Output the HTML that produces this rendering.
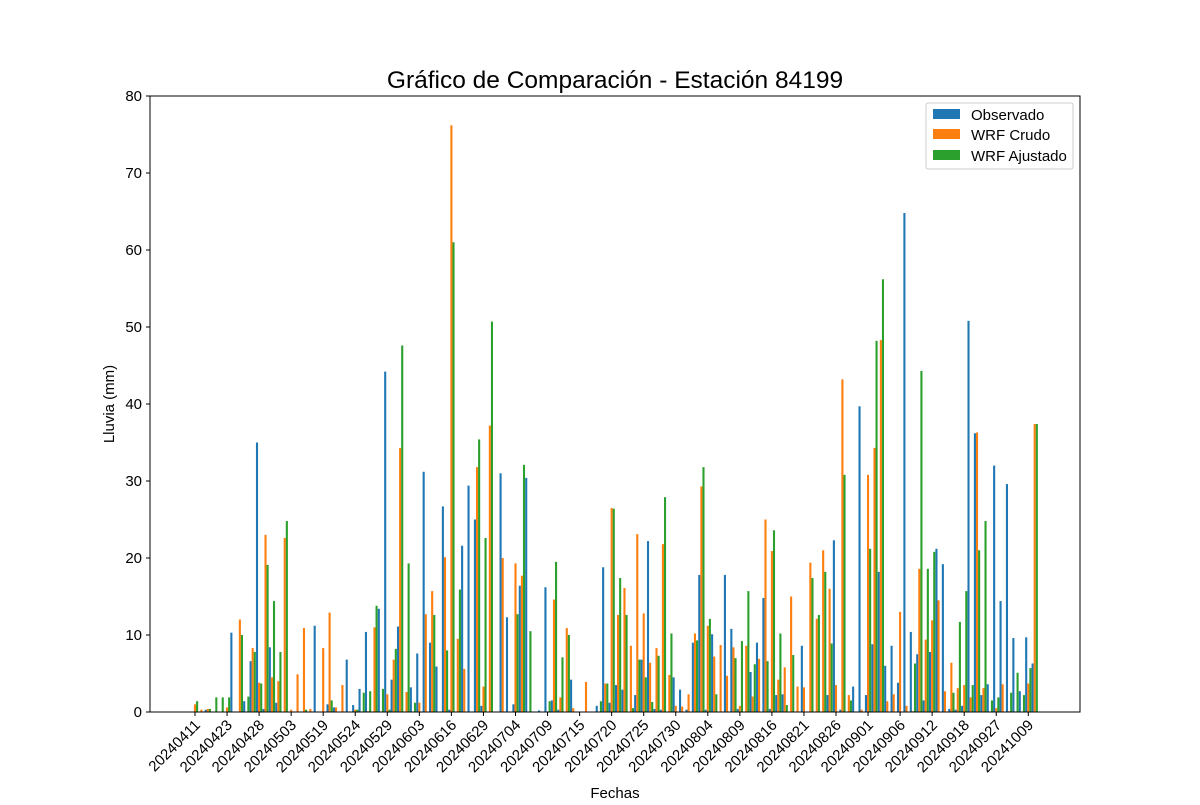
<!DOCTYPE html>
<html><head><meta charset="utf-8"><style>
body{margin:0;background:#fff;}
svg text{font-family:"Liberation Sans","DejaVu Sans",sans-serif;fill:#000;}
</style></head><body>
<svg id="chart" width="1200" height="800" viewBox="0 0 1200 800" xmlns="http://www.w3.org/2000/svg">
<rect width="1200" height="800" fill="#fff"/>
<text x="615" y="88" font-size="24.5" text-anchor="middle">Gráfico de Comparación - Estación 84199</text>
<text x="114" y="404" font-size="15" text-anchor="middle" transform="rotate(-90 114 404)">Lluvia (mm)</text>
<text x="615" y="798" font-size="15" text-anchor="middle">Fechas</text>
<g id="bars"></g>
<g id="axes"></g>
<g>
<rect x="926" y="103" width="147" height="66" fill="#fff" stroke="#ccc" rx="2"/>
<rect x="933" y="109" width="27" height="10" fill="#1f77b4"/>
<text x="971" y="120" font-size="15">Observado</text>
<rect x="933" y="129" width="27" height="10" fill="#ff7f0e"/>
<text x="971" y="140" font-size="15">WRF Crudo</text>
<rect x="933" y="150" width="27" height="10" fill="#2ca02c"/>
<text x="971" y="161" font-size="15">WRF Ajustado</text>
</g>
</svg>
<script>
const tickLabels = ["20240411","20240423","20240428","20240503","20240519","20240524","20240529","20240603","20240616","20240629","20240704","20240709","20240715","20240720","20240725","20240730","20240804","20240809","20240816","20240821","20240826","20240901","20240906","20240912","20240918","20240927","20241009"];
const observado = [0,0,0.3,0,0,0,10.3,0,1.4,6.6,35,0.4,8.4,1.2,0,0,0,0,0,11.2,0,1.0,0.6,0,6.8,0.9,3.0,10.4,0,13.4,44.2,4.2,11.1,0,3.2,7.6,31.2,9.0,5.9,26.7,0.3,0,21.6,29.4,25.0,0.8,0,0,31.0,12.3,1.0,16.4,30.4,0,0.2,16.2,1.5,0.3,0,4.2,0,0,0,0.8,18.8,1.2,3.5,2.9,0,2.2,6.8,22.2,0.4,0.3,0,4.5,2.9,0.3,9.0,17.8,0.3,10.1,0,17.8,10.8,0.4,0,5.2,9.0,14.8,0.4,2.2,2.3,0,0,8.6,0,0,0,2.2,22.3,0.3,0,3.3,39.7,2.2,8.8,18.2,6.0,8.6,3.8,64.8,10.4,7.5,1.5,7.8,21.2,19.2,0.4,0.3,0.8,50.8,36.2,2.2,3.6,32.0,14.4,29.6,9.6,2.7,9.7,6.3];
const wrfCrudo = [1.0,0.3,0.4,0,0,0.6,0,12,0,8.3,3.8,23,4.5,4.0,22.6,0.3,4.9,10.9,0.4,0,8.3,12.9,0.6,3.5,0,0.3,0,0.1,11.0,0,2.3,6.8,34.3,2.6,0,1.2,12.7,15.7,0,20.1,76.2,9.5,5.6,0,31.8,3.3,37.2,0,20.0,0,19.3,17.7,0,0,0,0,14.6,1.9,10.9,0.5,0,3.9,0,0,3.7,26.5,12.6,16.1,8.6,23.1,12.8,6.4,8.3,21.8,4.8,0.8,0.7,2.3,10.2,29.3,11.2,7.2,8.7,4.7,8.4,0.8,8.6,2.0,6.9,25.0,20.9,4.2,5.8,15.0,3.3,3.2,19.4,12.1,21.0,16.0,3.5,43.2,2.2,0,0.3,30.8,34.3,48.3,1.4,2.3,13.0,0.8,0.1,18.6,9.4,11.9,14.5,2.7,6.4,3.1,3.5,1.9,36.3,3.1,0,0.5,3.6,0.1,0,0,3.7,37.4];
const wrfAjustado = [1.4,0,0.4,1.9,1.9,1.9,0,10,2.0,7.8,3.7,19.1,14.4,7.8,24.8,0,0,0.3,0,0,0,1.5,0,0,0,0.3,2.5,2.7,13.8,3.0,0.3,8.2,47.6,19.3,1.2,0,0,12.6,0,8.0,61.0,15.9,0,0,35.4,22.6,50.7,0,0,0,12.7,32.1,10.5,0,0,1.4,19.5,7.1,10.0,0,0,0,0,1.4,3.7,26.4,17.4,12.6,0.5,6.8,4.5,1.3,7.3,27.9,10.2,0,0,0,9.3,31.8,12.1,2.3,0,0,7.0,9.2,15.7,6.2,0,6.6,23.6,10.2,0.9,7.4,0,0,17.4,12.6,18.2,8.9,0,30.8,1.5,0,0,21.2,48.2,56.2,0,0,0,0,6.3,44.3,18.6,20.8,0,0,2.5,11.7,15.7,3.5,21.0,24.8,1.5,1.9,0,2.5,5.1,2.2,5.7,37.4];
const yTicks = [0,10,20,30,40,50,60,70,80];

const NS = "http://www.w3.org/2000/svg";
const plot = {left:150, right:1080, top:96, bottom:712};
const yMax = 80;
function xScale(i){ return 195 + i * 6.41; }
function yScale(v){ return plot.bottom - v / yMax * (plot.bottom - plot.top); }
const barW = 2.1;
const series = [
  {vals: observado, color: "#1f77b4", off: -barW, name: "observado"},
  {vals: wrfCrudo, color: "#ff7f0e", off: 0, name: "wrf-crudo"},
  {vals: wrfAjustado, color: "#2ca02c", off: barW, name: "wrf-ajustado"}
];
const barsG = document.getElementById("bars");
series.forEach(s => {
  s.vals.forEach((v, i) => {
    if (v <= 0) return;
    const r = document.createElementNS(NS, "rect");
    const y = yScale(v);
    r.setAttribute("x", (xScale(i) + s.off - barW/2).toFixed(2));
    r.setAttribute("y", y.toFixed(2));
    r.setAttribute("width", barW);
    r.setAttribute("height", (plot.bottom - y).toFixed(2));
    r.setAttribute("fill", s.color);
    
    
    barsG.appendChild(r);
  });
});
const axesG = document.getElementById("axes");
const frame = document.createElementNS(NS, "rect");
frame.setAttribute("x", plot.left); frame.setAttribute("y", plot.top);
frame.setAttribute("width", plot.right - plot.left); frame.setAttribute("height", plot.bottom - plot.top);
frame.setAttribute("fill", "none"); frame.setAttribute("stroke", "#000"); frame.setAttribute("stroke-width", "1");


axesG.appendChild(frame);
yTicks.forEach(t => {
  const y = yScale(t);
  const l = document.createElementNS(NS, "line");
  l.setAttribute("x1", plot.left - 4); l.setAttribute("x2", plot.left);
  l.setAttribute("y1", y); l.setAttribute("y2", y); l.setAttribute("stroke", "#000");
  
  
  axesG.appendChild(l);
  const tx = document.createElementNS(NS, "text");
  tx.setAttribute("x", plot.left - 8); tx.setAttribute("y", y + 5);
  tx.setAttribute("font-size", "15"); tx.setAttribute("text-anchor", "end");
  tx.textContent = t;
  
  
  axesG.appendChild(tx);
});
tickLabels.forEach((lab, k) => {
  const x = xScale(k * 5);
  const l = document.createElementNS(NS, "line");
  l.setAttribute("x1", x); l.setAttribute("x2", x);
  l.setAttribute("y1", plot.bottom); l.setAttribute("y2", plot.bottom + 4); l.setAttribute("stroke", "#000");
  
  
  axesG.appendChild(l);
  const tx = document.createElementNS(NS, "text");
  const ax = x + 6, ay = plot.bottom + 14;
  tx.setAttribute("x", ax); tx.setAttribute("y", ay);
  tx.setAttribute("font-size", "15"); tx.setAttribute("text-anchor", "end");
  tx.setAttribute("transform", "rotate(-45 " + ax + " " + ay + ")");
  tx.textContent = lab;
  
  
  axesG.appendChild(tx);
});
</script>
</body></html>
